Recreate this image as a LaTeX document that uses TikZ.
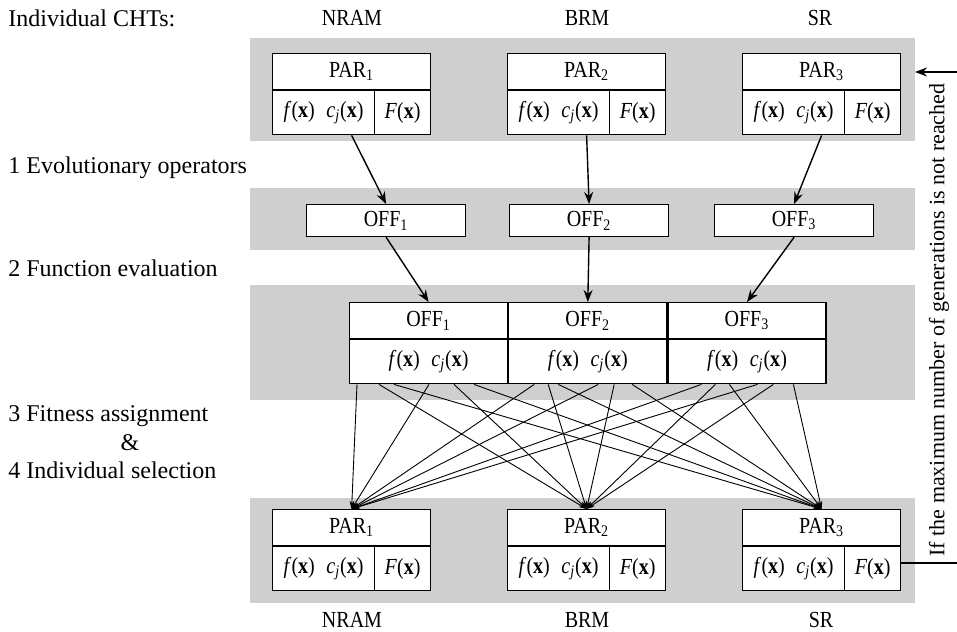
\documentclass[tikz,border=0pt]{standalone}
\usepackage{fontspec}
\setmainfont{Liberation Serif}
\newfontfamily\boxfont[FakeStretch=0.87]{Liberation Serif}
\usetikzlibrary{arrows.meta,positioning}

\newcommand{\fcx}{\textit{f}(\textbf{x})\enspace\textit{c}\textsubscript{\textit{j}}(\textbf{x})}
\newcommand{\Fx}{\textit{F}(\textbf{x})}

\tikzset{
	band/.style={fill=black!19,draw=none,inner sep=0pt,outer sep=0pt,minimum width=332.5pt,anchor=north west},
	cell/.style={draw,fill=white,inner sep=0pt,line width=0.6pt,font=\boxfont\fontsize{11.5}{13}\selectfont},
	head/.style={cell,minimum width=79pt,minimum height=18pt},
	fpart/.style={cell,minimum width=51pt,minimum height=22pt},
	Fpart/.style={cell,minimum width=28pt,minimum height=22pt},
	lab/.style={anchor=west,inner sep=0pt,font=\fontsize{12}{14}\selectfont},
	chtname/.style={font=\boxfont\fontsize{11.5}{13}\selectfont},
	flow/.style={line width=0.7pt,-{Stealth[length=6pt,width=4.5pt]}},
	cross/.style={line width=0.45pt,-{Stealth[length=4pt,width=2.4pt]}}
}

\begin{document}
\begin{tikzpicture}[x=0.5pt,y=-0.5pt,font=\fontsize{11}{13}\selectfont]
			\useasboundingbox (0,0) rectangle (957,631);

			% grey bands
			\node[band,minimum height=51.5pt] (band1) at (250,38) {};
			\node[band,minimum height=31pt] (band2) at (250,188) {};
			\node[band,minimum height=57.5pt] (band3) at (250,285) {};
			\node[band,minimum height=52.5pt] (band4) at (250,498) {};

			% headings
			\node[lab] (chts) at (8,18) {Individual CHTs:};
			\node[chtname] (nramt) at (352,18) {NRAM};
			\node[chtname] (brmt) at (587,18) {BRM};
			\node[chtname] (srt) at (820,18) {SR};

			% steps
			\node[lab] (step1) at (8,168) {1 Evolutionary operators};
			\node[lab] (step2) at (8,268) {2 Function evaluation};
			\node[lab] (step3) at (8,416) {3 Fitness assignment};
			\node[font=\fontsize{12}{14}\selectfont] (amp) at (130,443) {\&};
			\node[lab] (step4) at (8,470) {4 Individual selection};

			% parents, top
			\node[head,anchor=north west] (pt1) at (272,53) {PAR\textsubscript{1}};
			\node[fpart,anchor=north west] (pt1f) at (pt1.south west) {\fcx};
			\node[Fpart,anchor=north east] (pt1F) at (pt1.south east) {\Fx};
			\node[head,anchor=north west] (pt2) at (507,53) {PAR\textsubscript{2}};
			\node[fpart,anchor=north west] (pt2f) at (pt2.south west) {\fcx};
			\node[Fpart,anchor=north east] (pt2F) at (pt2.south east) {\Fx};
			\node[head,anchor=north west] (pt3) at (742,53) {PAR\textsubscript{3}};
			\node[fpart,anchor=north west] (pt3f) at (pt3.south west) {\fcx};
			\node[Fpart,anchor=north east] (pt3F) at (pt3.south east) {\Fx};

			% offspring
			\node[cell,minimum width=79.5pt,minimum height=16pt,anchor=north west] (off1) at (306,204) {OFF\textsubscript{1}};
			\node[cell,minimum width=79.5pt,minimum height=16pt,anchor=north west] (off2) at (509,204) {OFF\textsubscript{2}};
			\node[cell,minimum width=79.5pt,minimum height=16pt,anchor=north west] (off3) at (714,204) {OFF\textsubscript{3}};

			% evaluated offspring
			\node[head,anchor=north west] (oh1) at (349,302) {OFF\textsubscript{1}};
			\node[head,anchor=north west] (oh2) at (oh1.north east) {OFF\textsubscript{2}};
			\node[head,anchor=north west] (oh3) at (oh2.north east) {OFF\textsubscript{3}};
			\node[cell,minimum width=79pt,minimum height=22pt,anchor=north] (ob1) at (oh1.south) {\fcx};
			\node[cell,minimum width=79pt,minimum height=22pt,anchor=north] (ob2) at (oh2.south) {\fcx};
			\node[cell,minimum width=79pt,minimum height=22pt,anchor=north] (ob3) at (oh3.south) {\fcx};

			% parents, bottom
			\node[head,anchor=north west] (pb1) at (272,509) {PAR\textsubscript{1}};
			\node[fpart,anchor=north west] (pb1f) at (pb1.south west) {\fcx};
			\node[Fpart,anchor=north east] (pb1F) at (pb1.south east) {\Fx};
			\node[head,anchor=north west] (pb2) at (507,509) {PAR\textsubscript{2}};
			\node[fpart,anchor=north west] (pb2f) at (pb2.south west) {\fcx};
			\node[Fpart,anchor=north east] (pb2F) at (pb2.south east) {\Fx};
			\node[head,anchor=north west] (pb3) at (742,509) {PAR\textsubscript{3}};
			\node[fpart,anchor=north west] (pb3f) at (pb3.south west) {\fcx};
			\node[Fpart,anchor=north east] (pb3F) at (pb3.south east) {\Fx};

			\node[chtname] (nramb) at (352,620) {NRAM};
			\node[chtname] (brmb) at (587,620) {BRM};
			\node[chtname] (srb) at (821,620) {SR};

			% variation
			\draw[flow] (pt1f.south -| pt1.south) -- (off1.north);
			\draw[flow] (pt2f.south -| pt2.south) -- (off2.north);
			\draw[flow] (pt3f.south -| pt3.south) -- (off3.north);

			% evaluation
			\draw[flow] (off1.south) -- (oh1.north);
			\draw[flow] (off2.south) -- (oh2.north);
			\draw[flow] (off3.south) -- (oh3.north);

			% selection from OFF_1
			\draw[cross] ([xshift=4pt]ob1.south west) -- (pb1.north);
			\draw[cross] ([xshift=15pt]ob1.south west) -- (pb2.north);
			\draw[cross] ([xshift=22.5pt]ob1.south west) -- (pb3.north);
			\draw[cross] ([xshift=40pt]ob1.south west) -- (pb1.north);
			\draw[cross] ([xshift=52.5pt]ob1.south west) -- (pb2.north);
			\draw[cross] ([xshift=62.5pt]ob1.south west) -- (pb3.north);

			% selection from OFF_2
			\draw[cross] ([xshift=13pt]ob2.south west) -- (pb1.north);
			\draw[cross] ([xshift=20pt]ob2.south west) -- (pb2.north);
			\draw[cross] ([xshift=25pt]ob2.south west) -- (pb3.north);
			\draw[cross] ([xshift=45pt]ob2.south west) -- (pb1.north);
			\draw[cross] ([xshift=53pt]ob2.south west) -- (pb2.north);
			\draw[cross] ([xshift=62pt]ob2.south west) -- (pb3.north);

			% selection from OFF_3
			\draw[cross] ([xshift=17pt]ob3.south west) -- (pb1.north);
			\draw[cross] ([xshift=24pt]ob3.south west) -- (pb2.north);
			\draw[cross] ([xshift=31pt]ob3.south west) -- (pb3.north);
			\draw[cross] ([xshift=45pt]ob3.south west) -- (pb1.north);
			\draw[cross] ([xshift=53pt]ob3.south west) -- (pb2.north);
			\draw[cross] ([xshift=63pt]ob3.south west) -- (pb3.north);

			% generation loop
			\coordinate (backin) at (957,72);
			\coordinate (backout) at (957,563);
			\draw[flow] (backin) -- (backin -| band1.east);
			\draw[line width=0.7pt] (pb3F.east |- backout) -- (backout);
			\node[rotate=90] (loop) at (939,320) {If the maximum number of generations is not reached};
		\end{tikzpicture}
\end{document}
